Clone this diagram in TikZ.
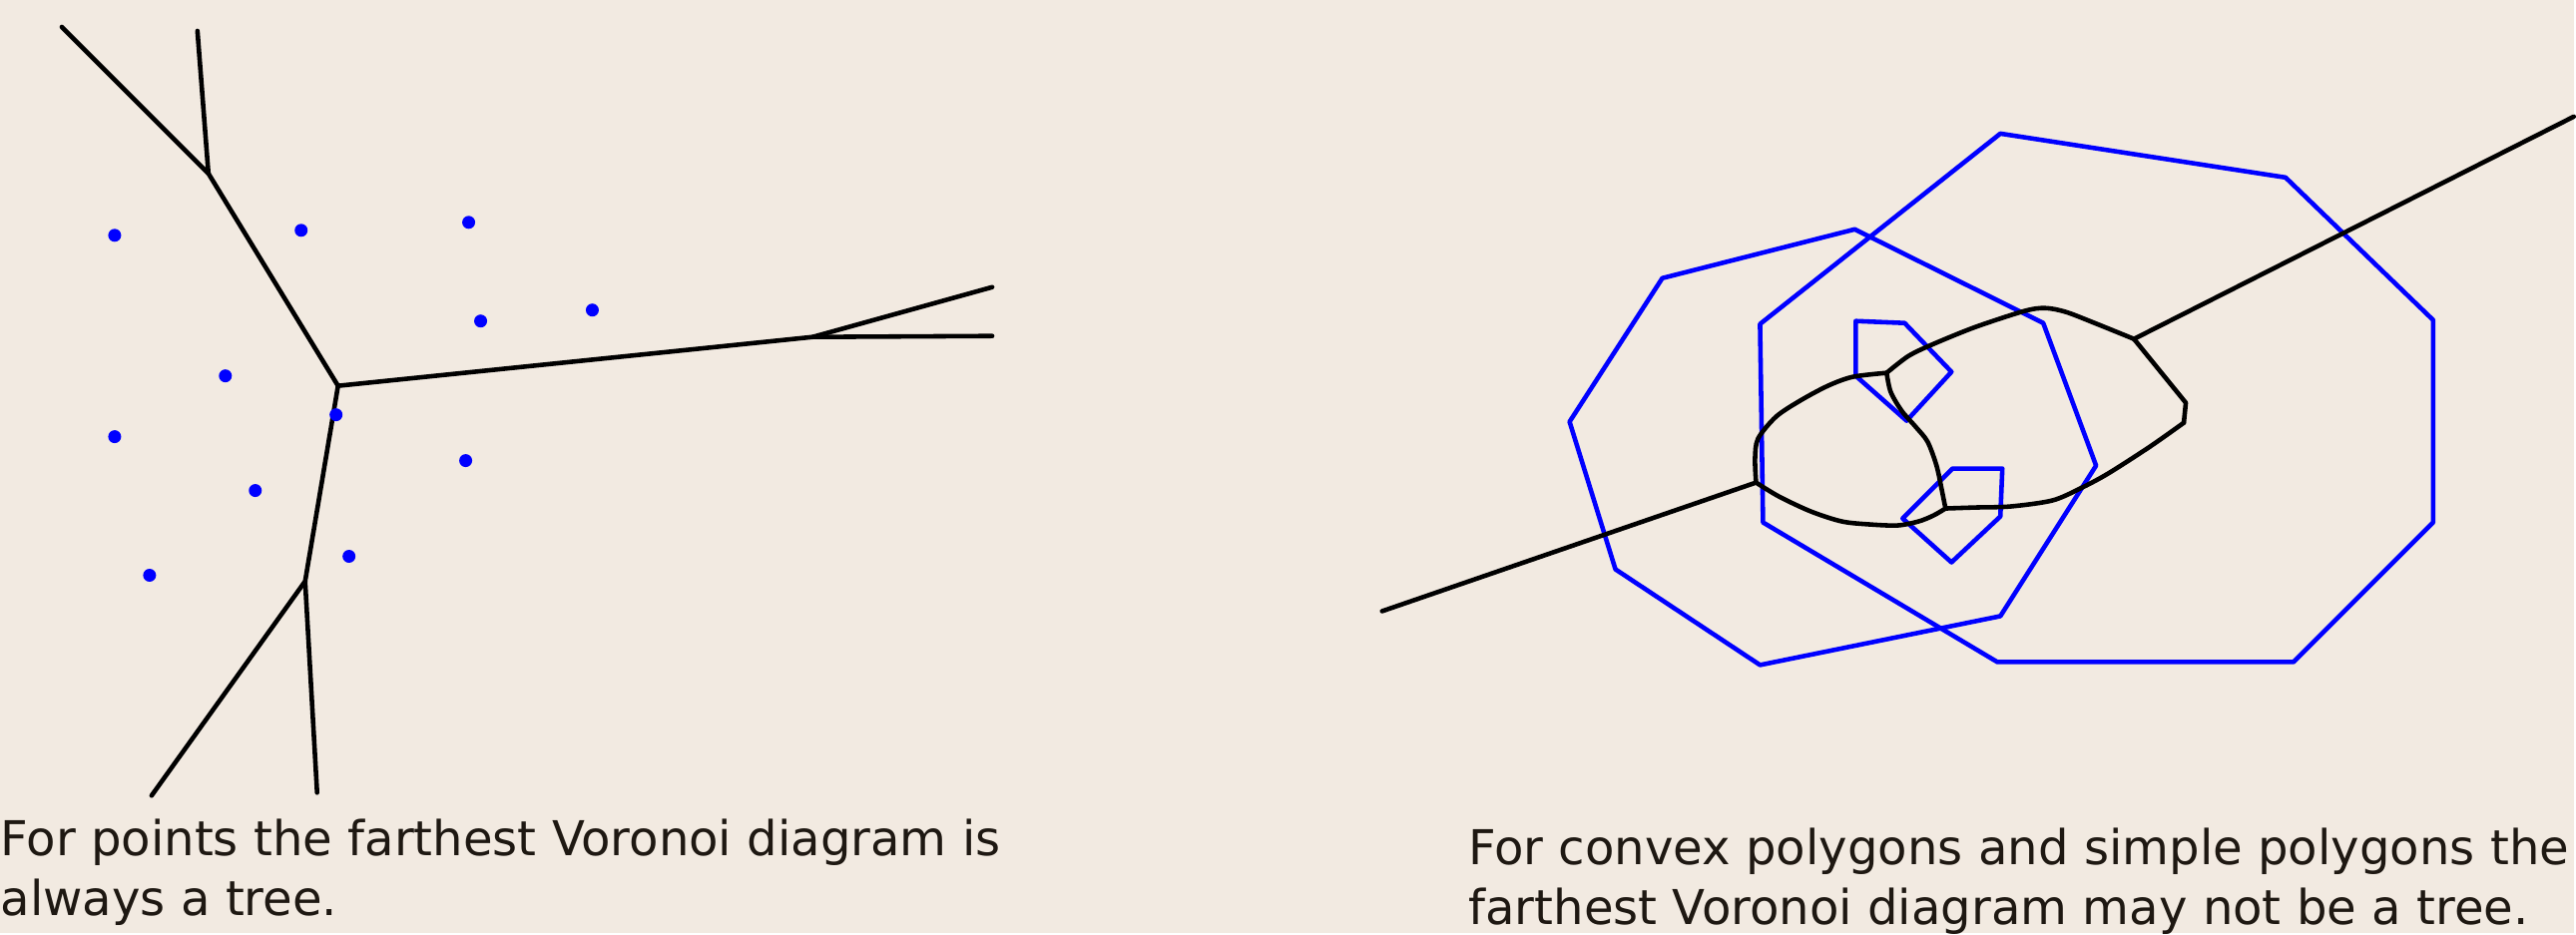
\documentclass[tikz,border=0pt]{standalone}
\usepackage{fontspec}
\setmainfont{DejaVu Sans}
\definecolor{paper}{RGB}{242,234,225}
\definecolor{ink}{RGB}{30,24,18}

\begin{document}
\begin{tikzpicture}[x=0.01cm,y=-0.01cm,
  vedge/.style={line width=1.3pt,line join=round,line cap=round},
  poly/.style={blue,line width=1.3pt,line join=round},
  site/.style={fill=blue},
  caption/.style={anchor=base west,inner sep=0pt,text=ink,font=\fontsize{13.7pt}{17pt}\selectfont}]
  \fill[paper] (0,0) rectangle (2581,936);

  % farthest Voronoi diagram of points
  \coordinate (a) at (209,174);
  \coordinate (b) at (339,387);
  \coordinate (c) at (815,338);
  \coordinate (d) at (306,583);
  \draw[vedge] (62,27) -- (a) -- (198,31);
  \draw[vedge] (a) -- (b) -- (c) -- (995,288);
  \draw[vedge] (c) -- (995,337);
  \draw[vedge] (b) -- (d) -- (152,798);
  \draw[vedge] (d) -- (318,795);
  \foreach \p in {(115,236),(302,231),(470,223),(482,322),(594,311),(226,377),
                  (337,416),(115,438),(467,462),(256,492),(350,558),(150,577)}
    \fill[site] \p circle (6.5);

  % polygons
  \draw[poly] (2006,134) -- (2292,178) -- (2440,321) -- (2440,524) -- (2300,664)
    -- (2003,664) -- (1768,524) -- (1765,325) -- cycle;
  \draw[poly] (1860,230) -- (2049,324) -- (2102,467) -- (2006,618) -- (1765,667)
    -- (1620,571) -- (1574,423) -- (1667,279) -- cycle;
  \draw[poly] (1861,322) -- (1910,324) -- (1957,373) -- (1912,422) -- (1861,377) -- cycle;
  \draw[poly] (1958,470) -- (2008,470) -- (2006,518) -- (1957,564) -- (1908,520) -- cycle;

  % farthest Voronoi diagram of polygons
  \coordinate (l) at (1761,484);
  \coordinate (p) at (1892,374);
  \coordinate (q) at (1951,510);
  \coordinate (r) at (2140,340);
  \draw[vedge] (1386,613) -- (l);
  \draw[vedge] (r) -- (2581,117);
  \draw[vedge] plot[smooth] coordinates {(l) (1760,460) (1763,440) (1781,418)
    (1805,402) (1833,387) (1858,378) (p)};
  \draw[vedge] plot[smooth] coordinates {(l) (1784,498) (1816,513) (1847,523)
    (1875,526) (1903,527) (1924,523) (1939,517) (q)};
  \draw[vedge] plot[smooth] coordinates {(p) (1896,393) (1907,412) (1921,428)
    (1933,443) (1942,467) (1947,490) (q)};
  \draw[vedge] plot[smooth] coordinates {(p) (1914,357) (1939,345) (1981,328)
    (2030,312) (2051,309) (2072,313) (2103,325) (r)};
  \draw[vedge] plot[smooth] coordinates {(r) (2166,372) (2192,404)} -- (2190,424);
  \draw[vedge] plot[smooth] coordinates {(2190,424) (2156,448) (2114,475) (2086,490)
    (2058,502) (2016,508) (1981,509) (q)};

  \node[caption] (capa) at (0,858) {For points the farthest Voronoi diagram is};
  \node[caption] (capb) at (0,918) {always a tree.};
  \node[caption] (capc) at (1472,867) {For convex polygons and simple polygons the};
  \node[caption] (capd) at (1472,927) {farthest Voronoi diagram may not be a tree.};
\end{tikzpicture}
\end{document}
